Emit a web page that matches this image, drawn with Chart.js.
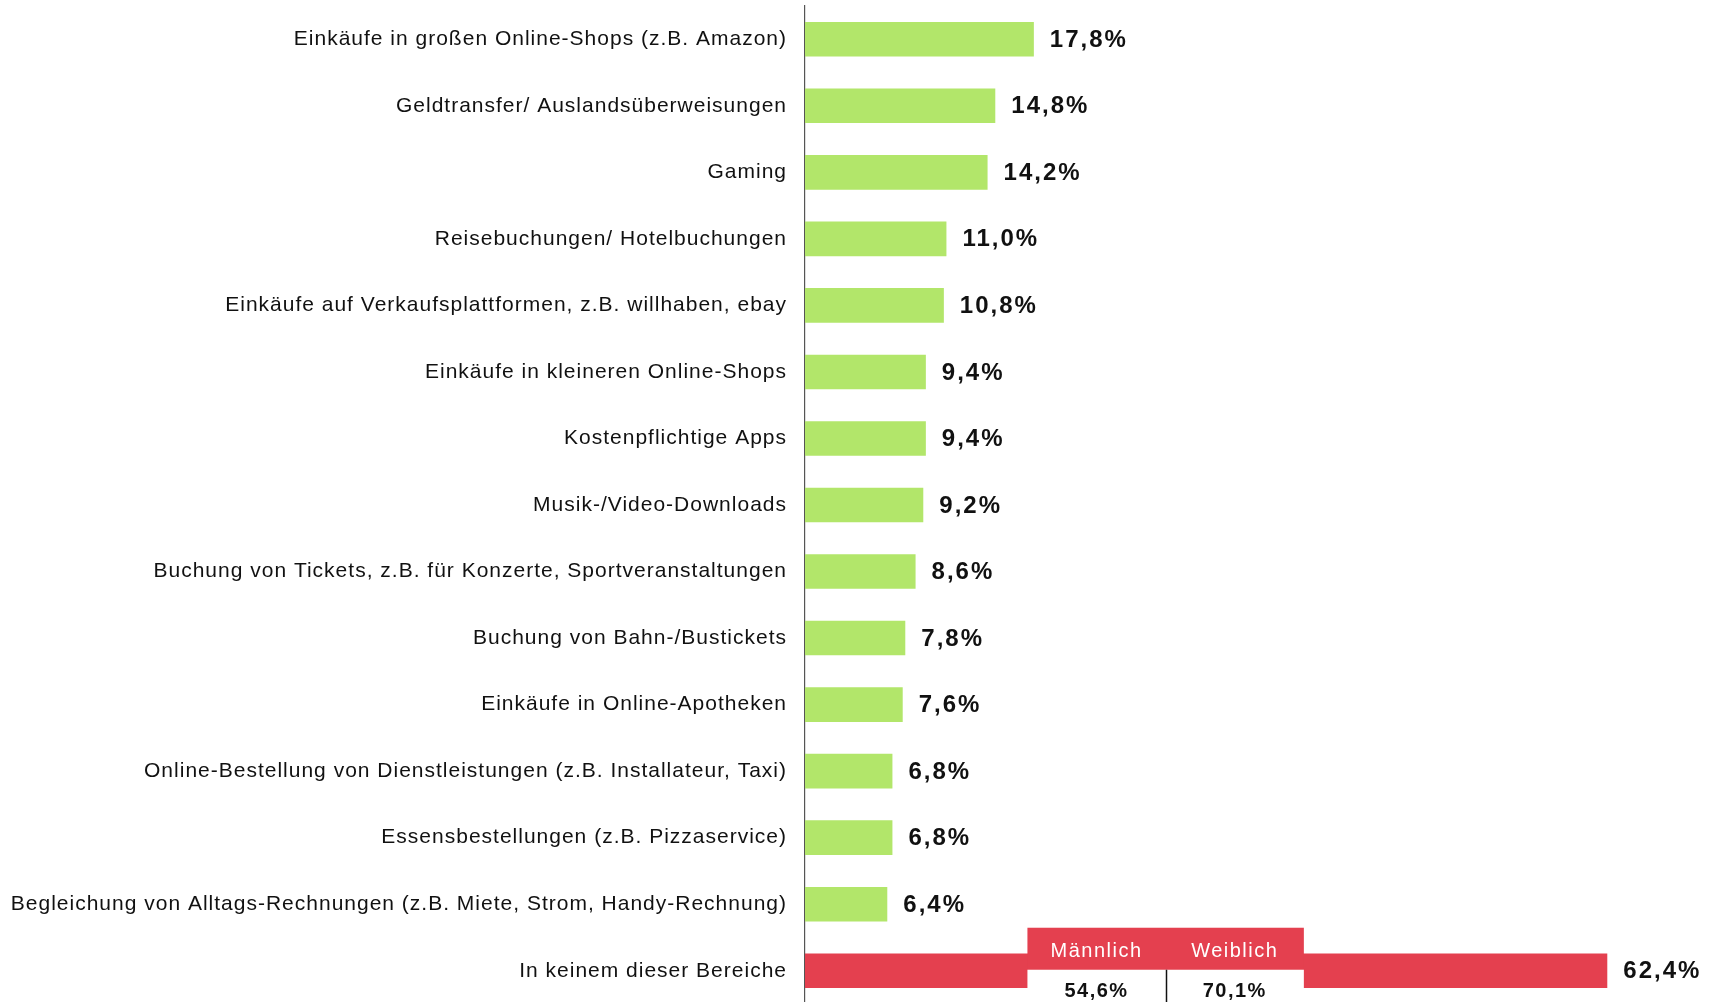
<!DOCTYPE html>
<html>
<head>
<meta charset="utf-8">
<script src="https://cdn.jsdelivr.net/npm/chart.js@4.4.1/dist/chart.umd.min.js"></script>
<style>
  html, body { margin: 0; padding: 0; background: #fff; overflow: hidden; }
  #wrap { width: 1715px; height: 1002px; overflow: hidden; }
  #box { width: 1715px; height: 1004px; position: relative; }
</style>
</head>
<body>
<div id="wrap"><div id="box"><canvas id="chart"></canvas></div></div>
<script>
/* Online-Zahlungen nach Bereichen */

const categories = [
  'Einkäufe in großen Online-Shops (z.B. Amazon)',
  'Geldtransfer/ Auslandsüberweisungen',
  'Gaming',
  'Reisebuchungen/ Hotelbuchungen',
  'Einkäufe auf Verkaufsplattformen, z.B. willhaben, ebay',
  'Einkäufe in kleineren Online-Shops',
  'Kostenpflichtige Apps',
  'Musik-/Video-Downloads',
  'Buchung von Tickets, z.B. für Konzerte, Sportveranstaltungen',
  'Buchung von Bahn-/Bustickets',
  'Einkäufe in Online-Apotheken',
  'Online-Bestellung von Dienstleistungen (z.B. Installateur, Taxi)',
  'Essensbestellungen (z.B. Pizzaservice)',
  'Begleichung von Alltags-Rechnungen (z.B. Miete, Strom, Handy-Rechnung)',
  'In keinem dieser Bereiche'
];
const values = [17.8, 14.8, 14.2, 11.0, 10.8, 9.4, 9.4, 9.2, 8.6, 7.8, 7.6, 6.8, 6.8, 6.4, 62.4];

// Aufschlüsselung für "In keinem dieser Bereiche"
const genderLabels = ['Männlich', 'Weiblich'];
const genderValues = [54.6, 70.1];

const GREEN = '#b2e66a';
const RED = '#e4404f';
const FONT = '"Liberation Sans", Arial, sans-serif';

const fmtPct = v => v.toFixed(1).replace('.', ',') + '%';

// etwas Zeichenabstand wie im Original
const spacing = {
  id: 'spacing',
  beforeUpdate(chart) { chart.ctx.letterSpacing = '1px'; },
  beforeDraw(chart) { chart.ctx.letterSpacing = '1px'; }
};

const valueLabels = {
  id: 'valueLabels',
  afterDatasetsDraw(chart) {
    const ctx = chart.ctx;
    const meta = chart.getDatasetMeta(0);
    ctx.save();
    ctx.letterSpacing = '2px';
    ctx.fillStyle = '#111';
    ctx.font = 'bold 24px ' + FONT;
    ctx.textAlign = 'left';
    ctx.textBaseline = 'middle';
    meta.data.forEach((bar, i) => {
      ctx.fillText(fmtPct(values[i]), bar.x + 16, bar.y + 1);
    });
    ctx.restore();
  }
};

const genderBox = {
  id: 'genderBox',
  afterDatasetsDraw(chart) {
    const ctx = chart.ctx;
    const x = chart.scales.x;
    const meta = chart.getDatasetMeta(0);
    const bar = meta.data[meta.data.length - 1];
    const left = x.getPixelForValue(17.3);
    const right = x.getPixelForValue(38.8);
    const mid = (left + right) / 2;
    const top = bar.y - 43;
    const split = bar.y - 1;
    const bottom = chart.height;
    ctx.save();
    ctx.fillStyle = RED;
    ctx.fillRect(left, top, right - left, split - top);
    ctx.fillStyle = '#fff';
    ctx.fillRect(left, split, right - left, bottom - split);
    ctx.strokeStyle = '#111';
    ctx.lineWidth = 1.5;
    ctx.beginPath();
    ctx.moveTo(Math.round(mid) + 0.5, split);
    ctx.lineTo(Math.round(mid) + 0.5, bottom);
    ctx.stroke();
    ctx.textAlign = 'center';
    ctx.textBaseline = 'middle';
    ctx.letterSpacing = '1.5px';
    const centers = [(left + mid) / 2, (mid + right) / 2];
    genderLabels.forEach((lab, i) => {
      ctx.fillStyle = '#fff';
      ctx.font = '20px ' + FONT;
      ctx.fillText(lab, centers[i], bar.y - 19);
      ctx.fillStyle = '#111';
      ctx.font = 'bold 20px ' + FONT;
      ctx.fillText(fmtPct(genderValues[i]), centers[i], bar.y + 21);
    });
    ctx.restore();
  }
};

new Chart(document.getElementById('chart'), {
  type: 'bar',
  data: {
    labels: categories,
    datasets: [{
      data: values,
      backgroundColor: values.map((v, i) => i === values.length - 1 ? RED : GREEN),
      borderWidth: 0,
      barPercentage: 0.52,
      categoryPercentage: 1
    }]
  },
  options: {
    indexAxis: 'y',
    responsive: true,
    maintainAspectRatio: false,
    animation: false,
    layout: { padding: { top: 6, right: 10, bottom: 0, left: 0 } },
    plugins: { legend: { display: false }, tooltip: { enabled: false } },
    scales: {
      x: { display: false, min: 0, max: 70 },
      y: {
        grid: { display: false, drawTicks: false },
        border: { display: true, color: '#555', width: 1.2 },
        ticks: { color: '#111', font: { family: FONT, size: 21 }, padding: 18, autoSkip: false },
        afterFit: s => { s.width = 805; s.paddingTop = 0; s.paddingBottom = 0; }
      }
    }
  },
  plugins: [spacing, valueLabels, genderBox]
});
</script>
</body>
</html>
